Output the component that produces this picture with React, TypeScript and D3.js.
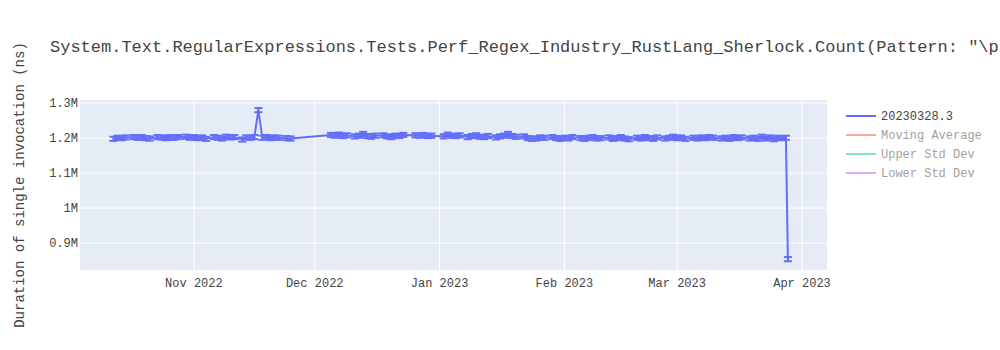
import React from "react";
import * as d3 from "d3";

const title = 'System.Text.RegularExpressions.Tests.Perf_Regex_Industry_RustLang_Sherlock.Count(Pattern: "\\p{Sm}", Options: None)';
const yTitle = "Duration of single invocation (ns)";

const dates: string[] = [
  "2022-10-12","2022-10-13","2022-10-14","2022-10-15","2022-10-17","2022-10-18","2022-10-19","2022-10-20","2022-10-21","2022-10-23",
  "2022-10-24","2022-10-25","2022-10-26","2022-10-27","2022-10-28","2022-10-30","2022-10-31","2022-11-01","2022-11-02","2022-11-03",
  "2022-11-04","2022-11-06","2022-11-07","2022-11-08","2022-11-09","2022-11-10","2022-11-11","2022-11-13","2022-11-14","2022-11-15",
  "2022-11-16","2022-11-17","2022-11-18","2022-11-19","2022-11-20","2022-11-21","2022-11-22","2022-11-24","2022-11-25",
  "2022-12-05","2022-12-06","2022-12-07","2022-12-08","2022-12-09","2022-12-11","2022-12-12","2022-12-13","2022-12-14","2022-12-15",
  "2022-12-16","2022-12-18","2022-12-19","2022-12-20","2022-12-21","2022-12-22","2022-12-23","2022-12-26","2022-12-27","2022-12-28",
  "2022-12-29","2022-12-30",
  "2023-01-02","2023-01-03","2023-01-04","2023-01-05","2023-01-06","2023-01-08","2023-01-09","2023-01-10","2023-01-11","2023-01-12",
  "2023-01-13","2023-01-15","2023-01-16","2023-01-17","2023-01-18","2023-01-19","2023-01-20","2023-01-22","2023-01-23","2023-01-24",
  "2023-01-25","2023-01-26","2023-01-27","2023-01-29","2023-01-30","2023-01-31",
  "2023-02-01","2023-02-02","2023-02-03","2023-02-05","2023-02-06","2023-02-07","2023-02-08","2023-02-09","2023-02-10","2023-02-12",
  "2023-02-13","2023-02-14","2023-02-15","2023-02-16","2023-02-17","2023-02-19","2023-02-20","2023-02-21","2023-02-22","2023-02-23",
  "2023-02-24","2023-02-26","2023-02-27","2023-02-28",
  "2023-03-01","2023-03-02","2023-03-03","2023-03-05","2023-03-06","2023-03-07","2023-03-08","2023-03-09","2023-03-10","2023-03-12",
  "2023-03-13","2023-03-14","2023-03-15","2023-03-16","2023-03-17","2023-03-19","2023-03-20","2023-03-21","2023-03-22","2023-03-23",
  "2023-03-24","2023-03-25","2023-03-26","2023-03-27","2023-03-28T00:00","2023-03-28T12:00"
];

// values in thousands of ns
const values: number[] = [
  1198,1201,1200,1202,1203,1201,1203,1200,1199,1203,
  1202,1200,1203,1201,1203,1204,1201,1203,1200,1202,
  1198,1203,1201,1199,1204,1202,1203,1196,1202,1201,
  1203,1280,1201,1203,1200,1202,1201,1200,1199,
  1209,1207,1210,1206,1208,1205,1207,1212,1206,1204,
  1207,1208,1205,1203,1207,1206,1209,1208,1207,1209,
  1206,1207,
  1205,1210,1207,1206,1208,1203,1206,1208,1204,1203,
  1206,1202,1205,1207,1212,1206,1204,1205,1200,1198,
  1199,1202,1201,1203,1200,1198,
  1201,1199,1203,1200,1198,1201,1203,1199,1200,1202,
  1198,1200,1203,1199,1197,1201,1199,1203,1200,1198,
  1202,1199,1201,1204,
  1200,1202,1198,1201,1199,1202,1200,1203,1201,1199,
  1201,1198,1203,1200,1202,1199,1201,1198,1204,1199,
  1202,1197,1201,1200,1201,854
];

// error bar half-height (thousands of ns), same for every run
const errorHalf = 6;

const yTicks: number[] = [900, 1000, 1100, 1200, 1300];
const yTickLabels: string[] = ["0.9M", "1M", "1.1M", "1.2M", "1.3M"];
const xTicks: string[] = ["2022-11-01", "2022-12-01", "2023-01-01", "2023-02-01", "2023-03-01", "2023-04-01"];
const xTickLabels: string[] = ["Nov 2022", "Dec 2022", "Jan 2023", "Feb 2023", "Mar 2023", "Apr 2023"];

const legendNames: string[] = ["20230328.3", "Moving Average", "Upper Std Dev", "Lower Std Dev"];
const legendColors: string[] = ["#636efa", "#EF553B", "#00cc96", "#ab63fa"];
const legendOpacity: number[] = [1, 0.5, 0.5, 0.5];

const FONT = "'Liberation Mono', 'Courier New', monospace";

export default function App() {
  const left = 80, right = 827, top = 100, bottom = 270;
  const parse = (s: string) => new Date(s.length > 10 ? s : s + "T00:00");
  const x = d3.scaleTime()
    .domain([new Date("2022-10-03T17:00"), new Date("2023-04-07T05:00")])
    .range([left, right]);
  const y = d3.scaleLinear().domain([823, 1309]).range([bottom, top]);
  const pts = dates.map((d, i) => ({ t: parse(d), v: values[i], e: errorHalf }));
  const line = d3.line<{ t: Date; v: number }>().x(p => x(p.t)).y(p => y(p.v));
  const color = "#636efa";

  return (
    <svg width={1000} height={350} style={{ position: "absolute", left: 0, top: 0, background: "#fff" }}>
      <rect x={left} y={top} width={right - left} height={bottom - top} fill="#e5ecf6" />
      {xTicks.map((t, i) => (
        <line key={"xg" + i} x1={x(parse(t))} x2={x(parse(t))} y1={top} y2={bottom} stroke="#fff" strokeWidth={1} />
      ))}
      {yTicks.map((t, i) => (
        <line key={"yg" + i} x1={left} x2={right} y1={y(t)} y2={y(t)} stroke="#fff" strokeWidth={1} />
      ))}
      <defs>
        <clipPath id="plotclip">
          <rect x={left} y={top} width={right - left} height={bottom - top} />
        </clipPath>
      </defs>
      <g clipPath="url(#plotclip)">
        {pts.map((p, i) => {
          const cx = x(p.t);
          return (
            <g key={"e" + i} stroke={color} strokeWidth={2}>
              <line x1={cx} x2={cx} y1={y(p.v - p.e)} y2={y(p.v + p.e)} />
              <line x1={cx - 4} x2={cx + 4} y1={y(p.v - p.e)} y2={y(p.v - p.e)} />
              <line x1={cx - 4} x2={cx + 4} y1={y(p.v + p.e)} y2={y(p.v + p.e)} />
            </g>
          );
        })}
        <path d={line(pts) || ""} fill="none" stroke={color} strokeWidth={2} />
      </g>
      {yTicks.map((t, i) => (
        <text key={"yt" + i} x={left - 2} y={y(t)} dy="0.35em" textAnchor="end" fontFamily={FONT} fontSize={12} fill="#444">
          {yTickLabels[i]}
        </text>
      ))}
      {xTicks.map((t, i) => (
        <text key={"xt" + i} x={x(parse(t))} y={bottom + 17} textAnchor="middle" fontFamily={FONT} fontSize={12} fill="#444">
          {xTickLabels[i]}
        </text>
      ))}
      <text x={50} y={52} fontFamily={FONT} fontSize={17} fill="#444">{title}</text>
      <text transform={`translate(24,${(top + bottom) / 2}) rotate(-90)`} textAnchor="middle" fontFamily={FONT} fontSize={14} fill="#444">
        {yTitle}
      </text>
      {legendNames.map((n, i) => (
        <g key={"lg" + i} opacity={legendOpacity[i]}>
          <line x1={846} x2={876} y1={116 + i * 19} y2={116 + i * 19} stroke={legendColors[i]} strokeWidth={2} />
          <text x={881} y={116 + i * 19} dy="0.35em" fontFamily={FONT} fontSize={12} fill="#444">{n}</text>
        </g>
      ))}
    </svg>
  );
}
